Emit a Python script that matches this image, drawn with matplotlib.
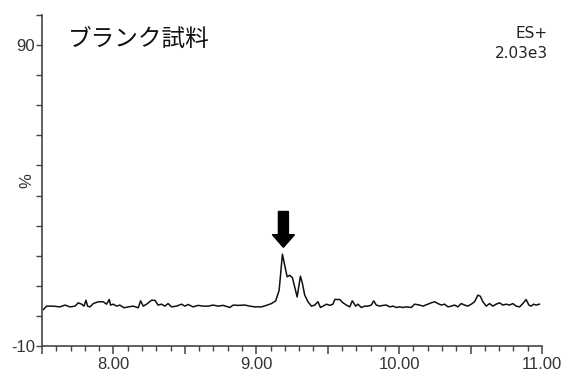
import matplotlib.pyplot as plt
from matplotlib.ticker import MultipleLocator, FuncFormatter

# Retention time (min) and relative intensity (%) of the blank chromatogram
rt = [7.509, 7.533, 7.579, 7.626, 7.661, 7.696, 7.731, 7.754, 7.777, 7.794,
      7.808, 7.819, 7.836, 7.859, 7.894, 7.929, 7.952, 7.971, 7.980, 7.999,
      8.022, 8.045, 8.073, 8.104, 8.139, 8.174, 8.190, 8.209, 8.232, 8.267,
      8.290, 8.313, 8.337, 8.360, 8.383, 8.407, 8.442, 8.477, 8.500, 8.523,
      8.558, 8.593, 8.628, 8.663, 8.698, 8.733, 8.768, 8.815, 8.838, 8.873,
      8.920, 8.955, 8.990, 9.036, 9.071, 9.106, 9.136, 9.160, 9.183, 9.199,
      9.216, 9.234, 9.253, 9.269, 9.286, 9.309, 9.323, 9.339, 9.362, 9.386,
      9.409, 9.432, 9.449, 9.467, 9.491, 9.514, 9.537, 9.549, 9.584, 9.607,
      9.631, 9.654, 9.672, 9.696, 9.712, 9.735, 9.759, 9.782, 9.805, 9.822,
      9.840, 9.864, 9.887, 9.910, 9.934, 9.957, 9.980, 10.004, 10.027, 10.050,
      10.085, 10.108, 10.143, 10.167, 10.202, 10.225, 10.248, 10.272, 10.295, 10.318,
      10.342, 10.365, 10.388, 10.411, 10.435, 10.458, 10.481, 10.505, 10.528, 10.551,
      10.568, 10.586, 10.610, 10.633, 10.656, 10.679, 10.703, 10.726, 10.749, 10.773,
      10.796, 10.819, 10.843, 10.866, 10.889, 10.908, 10.924, 10.941, 10.959, 10.982]
intensity = [2.1, 3.25, 3.25, 3.0, 3.6, 3.0, 3.25, 4.35, 3.9, 3.25,
             5.2, 3.25, 3.0, 4.1, 4.7, 4.7, 3.9, 5.45, 3.6, 3.9,
             3.25, 3.6, 2.7, 3.0, 3.25, 2.7, 5.0, 3.25, 3.9, 5.2,
             5.2, 3.6, 3.9, 3.25, 4.1, 3.0, 3.25, 3.9, 3.25, 3.8,
             3.0, 3.5, 3.25, 3.25, 3.6, 3.25, 3.5, 2.8, 3.6, 3.5,
             3.6, 3.25, 3.0, 3.0, 3.5, 4.1, 5.0, 8.5, 20.5, 16.8,
             13.0, 13.5, 12.7, 9.65, 6.3, 13.2, 10.75, 6.9, 4.7, 3.25,
             3.6, 4.7, 2.8, 3.25, 3.9, 3.5, 3.9, 5.45, 5.45, 4.35,
             3.6, 3.0, 5.0, 3.25, 3.9, 2.8, 3.25, 3.25, 3.6, 5.0,
             3.6, 3.25, 3.5, 3.6, 3.0, 3.25, 2.8, 3.0, 2.8, 3.0,
             2.8, 3.9, 3.6, 3.25, 3.9, 4.35, 4.7, 4.1, 3.6, 3.9,
             3.0, 3.25, 3.6, 3.0, 4.1, 3.6, 3.25, 3.9, 4.7, 6.9,
             6.55, 4.7, 3.25, 4.1, 3.25, 3.9, 4.35, 3.6, 3.9, 3.6,
             4.1, 3.25, 3.0, 4.1, 5.45, 3.6, 3.25, 3.9, 3.6, 3.9]

# Marker arrow over the main peak
arrow_rt = 9.19
arrow_top = 34.7
arrow_tip = 22.8

title = 'ブランク試料'
mode_text = 'ES+'
scale_text = '2.03e3'

plt.rcParams['font.family'] = ['Liberation Sans', 'DejaVu Sans']

fig = plt.figure(figsize=(5.65, 3.72), dpi=100)
ax = fig.add_axes([0.0743, 0.0699, 0.885, 0.8898])

ax.plot(rt, intensity, color='#111111', linewidth=1.1)

ax.arrow(arrow_rt, arrow_top, 0, arrow_tip - arrow_top, width=0.07,
         head_width=0.155, head_length=4.2, length_includes_head=True,
         fc='black', ec='black')

ax.set_xlim(7.5, 11.0)
ax.set_ylim(-10, 100)

for side in ['top', 'right']:
    ax.spines[side].set_visible(False)
for side in ['left', 'bottom']:
    ax.spines[side].set_color('#444444')
    ax.spines[side].set_linewidth(1.2)

ax.xaxis.set_major_locator(MultipleLocator(0.5))
ax.xaxis.set_minor_locator(MultipleLocator(0.1))
ax.xaxis.set_major_formatter(FuncFormatter(
    lambda v, p: f'{v:.2f}' if abs(v - round(v)) < 1e-6 else ''))
ax.yaxis.set_major_locator(MultipleLocator(10))
ax.yaxis.set_major_formatter(FuncFormatter(
    lambda v, p: f'{v:.0f}' if round(v) in (90, -10) else ''))

ax.tick_params(axis='x', which='major', length=6, width=1.1, color='#444444',
               labelsize=12, labelcolor='#333333', pad=2)
ax.tick_params(axis='x', which='minor', length=3.5, width=1.0, color='#444444')
ax.tick_params(axis='y', which='major', length=4, width=1.0, color='#444444',
               labelsize=12, labelcolor='#333333', pad=1)

ax.set_ylabel('%', fontsize=12, color='#333333')
ax.yaxis.set_label_coords(-0.016, 0.5)

ax.text(0.052, 0.927, title, transform=ax.transAxes, ha='left', va='center',
        fontsize=17, family=['Noto Sans CJK JP', 'DejaVu Sans'], color='#111111')

fig.text(548 / 565, 1 - 34 / 372, mode_text, ha='right', va='center',
         fontsize=11, color='#222222', family='DejaVu Sans')
fig.text(548 / 565, 1 - 54 / 372, scale_text, ha='right', va='center',
         fontsize=11, color='#222222', family='DejaVu Sans')

fig.savefig('out.png', dpi=100, facecolor='white')
